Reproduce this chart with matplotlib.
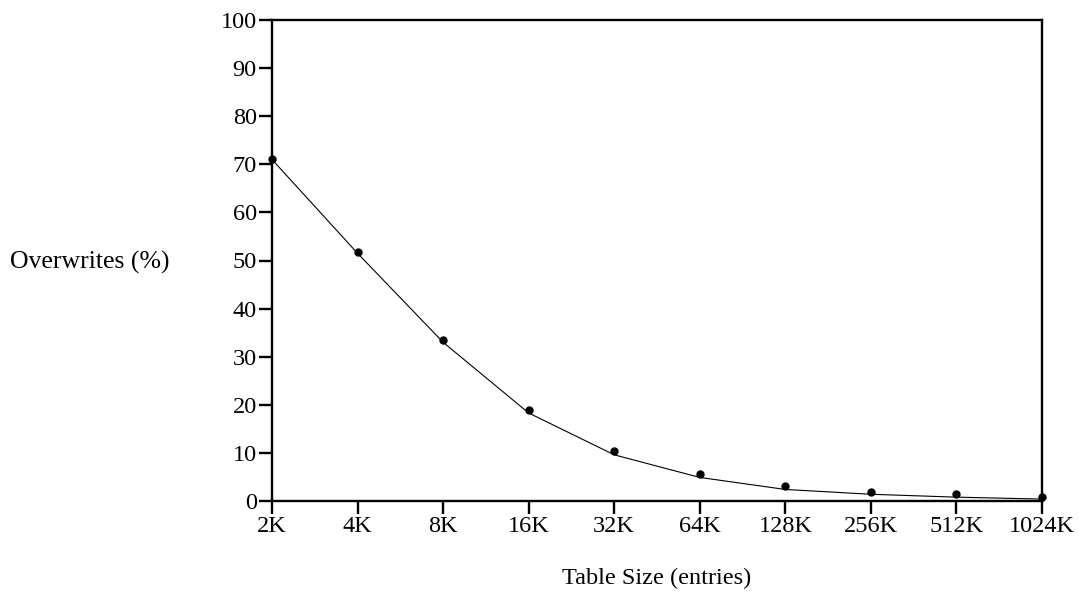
import matplotlib.pyplot as plt

sizes = ["2K", "4K", "8K", "16K", "32K", "64K", "128K", "256K", "512K", "1024K"]
measured = [71.1, 51.8, 33.4, 18.9, 10.3, 5.6, 3.1, 1.9, 1.4, 0.9]
fitted = [71.0, 51.5, 33.0, 18.3, 9.6, 4.9, 2.4, 1.4, 0.8, 0.4]

plt.rcParams['font.family'] = ['Liberation Serif', 'DejaVu Serif']

fig = plt.figure(figsize=(10.79, 6.08), dpi=100)
ax = fig.add_axes([272 / 1079, 1 - 501 / 608, (1042 - 272) / 1079, (501 - 20) / 608])

x = list(range(len(sizes)))
ax.plot(x, fitted, color="black", linewidth=0.8, clip_on=False)
ax.plot(x, measured, "o", color="black", markersize=5, clip_on=False)

ax.set_xlim(0, len(sizes) - 1)
ax.set_ylim(0, 100)
ax.set_xticks(x)
ax.set_xticklabels(sizes)
ax.set_yticks(range(0, 101, 10))

for s in ax.spines.values():
    s.set_linewidth(1.7)
ax.tick_params(axis="both", direction="out", length=9.4, width=1.7,
               labelsize=17.5, pad=1.5)

fig.text(10 / 1079, 1 - 262 / 608, "Overwrites (%)", fontsize=18.5,
         ha="left", va="center")
fig.text(657 / 1079, 1 - 578 / 608, "Table Size (entries)", fontsize=17.5,
         ha="center", va="center")

fig.savefig("out.png", dpi=100)
